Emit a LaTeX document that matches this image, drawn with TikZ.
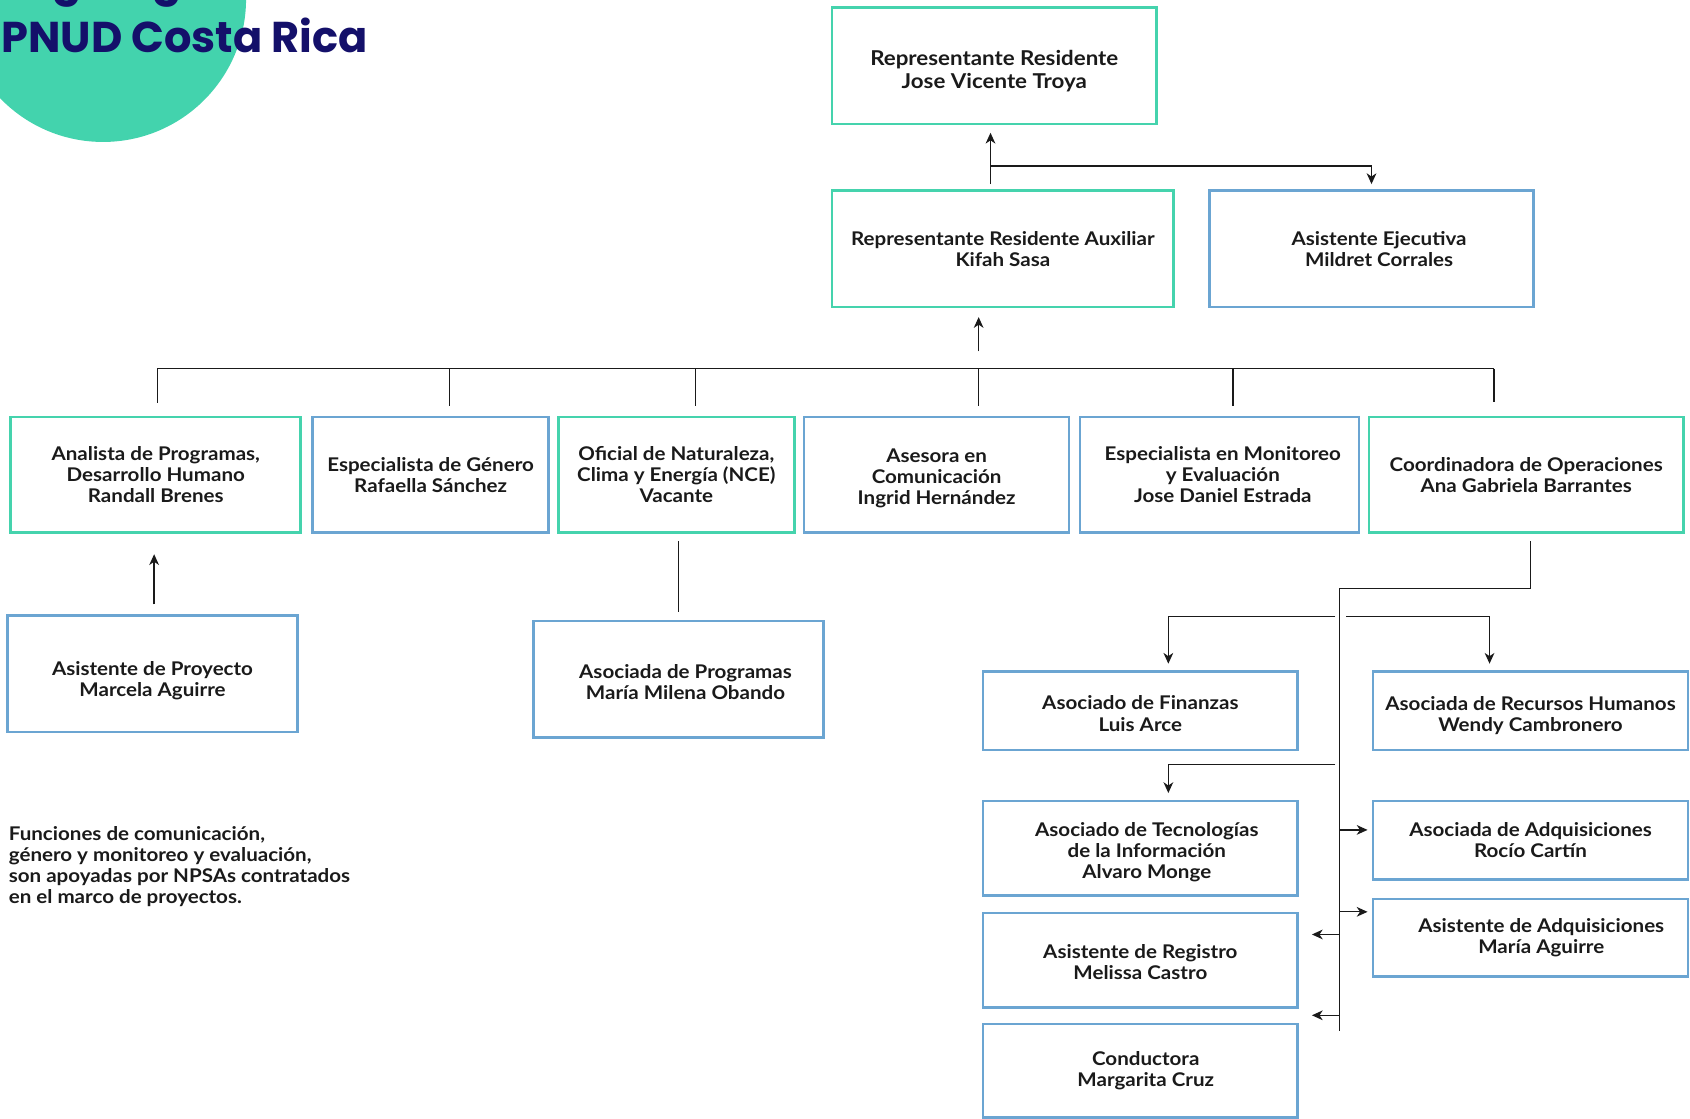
\documentclass[tikz,border=0pt]{standalone}
\usepackage{fontspec}
\setmainfont{Lato}[FakeStretch=1.09]
\newfontfamily\titlefont{Poppins}
\usetikzlibrary{arrows.meta,calc}
\definecolor{boxgreen}{HTML}{45D3AD}
\definecolor{boxblue}{HTML}{6BA5D2}
\definecolor{navy}{HTML}{14106A}
\definecolor{circgreen}{HTML}{43D3AD}
\definecolor{ink}{HTML}{1A1A1A}
\newcommand{\dn}[1]{\rule{0pt}{\dimexpr 14pt+2\dimexpr #1\relax\relax}}
\begin{document}
\begin{tikzpicture}[x=1pt,y=-1pt,
  font=\fontsize{17.5}{19.6}\selectfont\bfseries,
  box/.style={draw, line width=2.4pt, align=center, text=ink, inner sep=2pt},
  gbox/.style={box, draw=boxgreen},
  bbox/.style={box, draw=boxblue},
  conn/.style={draw=ink, line width=1.2pt},
  arr/.style={conn, -{Stealth[length=10pt,width=9pt,inset=3pt]}},
  sz/.style 2 args={minimum width=#1pt, minimum height=#2pt}]
\useasboundingbox (0,0) rectangle (1568,1038);
\begin{scope}
\clip (0,0) rectangle (1568,1038);
\fill[circgreen] (95.6,-1) circle[radius=132.7];
\node[anchor=base west, inner sep=0, text=navy, font=\titlefont\bfseries\fontsize{40}{44}\selectfont] (title0) at (0,-4) {Organigrama};
\end{scope}
\node[anchor=base west, inner sep=0, text=navy, font=\titlefont\bfseries\fontsize{40}{44}\selectfont] (title) at (1,49) {PNUD Costa Rica};

% top level
\node[gbox, sz={301}{108}, font=\fontsize{19}{20.5}\selectfont\bfseries] (rr) at (922.5,61) {\dn{5pt}Representante Residente\\Jose Vicente Troya};
\node[gbox, sz={317}{108}] (rra) at (930.5,231) {Representante Residente Auxiliar\\Kifah Sasa};
\node[bbox, sz={301}{108}] (ae) at (1272.5,231) {\hspace*{14pt}Asistente Ejecutiva\\\hspace*{14pt}Mildret Corrales};

% second row
\node[gbox, sz={269}{107}] (an) at (144.5,440.5) {Analista de Programas,\\Desarrollo Humano\\Randall Brenes};
\node[bbox, sz={219}{107}] (ge) at (399.5,440.5) {Especialista de Género\\Rafaella Sánchez};
\node[gbox, sz={219}{107}] (nce) at (627.5,440.5) {Oficial de Naturaleza,\\Clima y Energía (NCE)\\Vacante};
\node[bbox, sz={246}{107}] (com) at (869,440.5) {\dn{3pt}Asesora en\\Comunicación\\Ingrid Hernández};
\node[bbox, sz={259}{107}] (me) at (1131.5,440.5) {\hspace*{6pt}Especialista en Monitoreo\\\hspace*{6pt}y Evaluación\\\hspace*{6pt}Jose Daniel Estrada};
\node[gbox, sz={292}{107}] (co) at (1416,440.5) {Coordinadora de Operaciones\\Ana Gabriela Barrantes};

% lower boxes
\node[bbox, sz={269}{108}] (ap) at (141.5,625) {\dn{6pt}Asistente de Proyecto\\Marcela Aguirre};
\node[bbox, sz={269}{108}] (apr) at (629.5,630) {\dn{2pt}\hspace*{13pt}Asociada de Programas\\\hspace*{13pt}María Milena Obando};
\node[bbox, sz={292}{73}] (fin) at (1058,659.5) {\dn{2pt}Asociado de Finanzas\\Luis Arce};
\node[bbox, sz={292}{73}] (rh) at (1420,659.5) {\dn{4pt}Asociada de Recursos Humanos\\Wendy Cambronero};
\node[bbox, sz={292}{88}] (ti) at (1058,787) {\dn{3pt}\hspace*{12pt}Asociado de Tecnologías\\\hspace*{12pt}de la Información\\\hspace*{12pt}Alvaro Monge};
\node[bbox, sz={292}{73}] (adq) at (1420,779.5) {Asociada de Adquisiciones\\Rocío Cartín};
\node[bbox, sz={292}{72}] (asadq) at (1420,870) {\hspace*{20pt}Asistente de Adquisiciones\\\hspace*{20pt}María Aguirre};
\node[bbox, sz={292}{88}] (reg) at (1058,891) {\dn{1pt}Asistente de Registro\\Melissa Castro};
\node[bbox, sz={292}{87}] (con) at (1058,993.5) {\hspace*{10pt}Conductora\\\hspace*{10pt}Margarita Cruz};

% note
\node[anchor=base west, align=left, inner sep=0, text=ink] (note) at (8,838.5)
  {Funciones de comunicación,\\género y monitoreo y evaluación,\\son apoyadas por NPSAs contratados\\en el marco de proyectos.};

% connectors top
\coordinate (t1) at (919,0);
\coordinate (j1) at (919,154);
\draw[arr, shorten <=5pt, shorten >=7pt] (rra.north -| t1) -- (rr.south -| t1);
\draw[arr, shorten >=5pt] (j1) -| (ae.north);

% bus
\coordinate (b0) at (908,326);
\coordinate (busL) at (146,342);
\coordinate (busR) at (1386,342);
\coordinate (d2) at (417,342);
\coordinate (d3) at (645,342);
\coordinate (d4) at (908,342);
\coordinate (d5) at (1144,342);
\draw[arr, shorten >=8pt] (b0) -- (b0 |- rra.south);
\draw[conn] (busL) -- (busR);
\draw[conn, shorten >=12pt] (busL) -- (busL |- an.north);
\draw[conn, shorten >=9pt] (d2) -- (d2 |- ge.north);
\draw[conn, shorten >=9pt] (d3) -- (d3 |- nce.north);
\draw[conn, shorten >=9pt] (d4) -- (d4 |- com.north);
\draw[conn, shorten >=9pt] (d5) -- (d5 |- me.north);
\draw[conn, shorten >=13pt] (busR) -- (busR |- co.north);

% left children
\draw[arr, shorten <=9pt, shorten >=19pt] ([xshift=1.5pt]ap.north) -- ([xshift=1.5pt]ap.north |- an.south);
\draw[conn, shorten <=7pt, shorten >=7pt] (apr.north |- nce.south) -- (apr.north);

% operations tree
\coordinate (sp1) at (1243,546);
\coordinate (sp2) at (1243,957);
\draw[conn, shorten <=7pt] ([xshift=4pt]co.south) |- (sp1) -- (sp2);
\coordinate (f1) at (1084,572);
\coordinate (f2) at (1382,572);
\coordinate (f3) at (1084,709);
\draw[arr, shorten >=6pt] (1239,572) -- (f1) -- (f1 |- fin.north);
\draw[arr, shorten >=6pt] (1249,572) -- (f2) -- (f2 |- rh.north);
\draw[arr, shorten >=6pt] (1239,709) -- (f3) -- (f3 |- ti.north);
\coordinate (v1) at (1243,770);
\coordinate (v2) at (1243,846);
\coordinate (v3) at (1243,867);
\coordinate (v4) at (1243,942);
\draw[arr, shorten >=4pt] (v1) -- (v1 -| adq.west);
\draw[arr, shorten >=4pt] (v2) -- (v2 -| asadq.west);
\draw[arr, shorten >=12pt] (v3) -- (v3 -| reg.east);
\draw[arr, shorten >=12pt] (v4) -- (v4 -| con.east);
\end{tikzpicture}
\end{document}
